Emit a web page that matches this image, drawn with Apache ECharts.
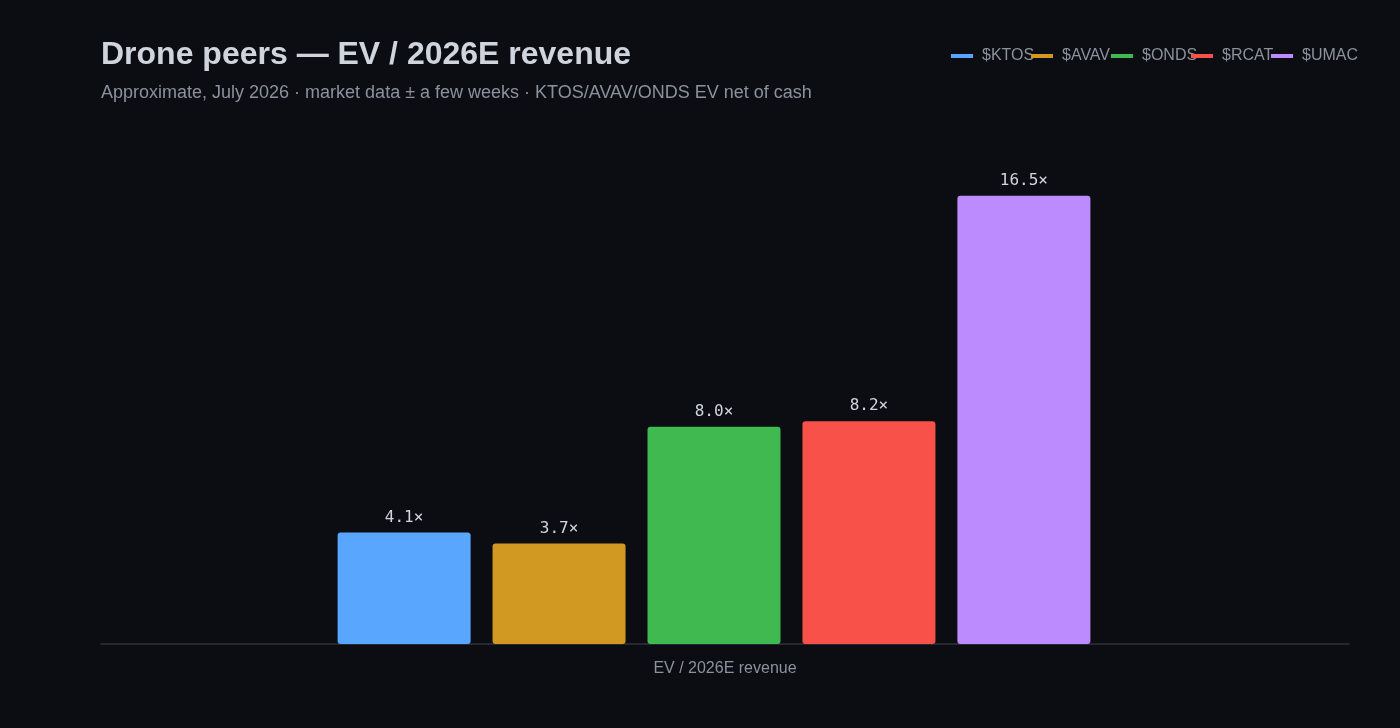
<!DOCTYPE html>
<html>
<head>
<meta charset="utf-8">
<script src="https://cdn.jsdelivr.net/npm/echarts@6/dist/echarts.min.js"></script>
<style>
  html, body { margin: 0; padding: 0; background: #0b0d12; }
  #chart { width: 1400px; height: 728px; }
</style>
</head>
<body>
<div id="chart"></div>
<script>
var categories = ['EV / 2026E revenue'];
var tickers = ['$KTOS', '$AVAV', '$ONDS', '$RCAT', '$UMAC'];
var multiples = [4.1, 3.7, 8.0, 8.2, 16.5];
var colors = ['#58a6ff', '#d29922', '#3fb950', '#f85149', '#bc8cff'];

var myChart = echarts.init(document.getElementById('chart'));
var sans = 'Liberation Sans, Arial, sans-serif';

var series = tickers.map(function (name, i) {
    return {
        name: name,
        type: 'bar',
        barWidth: 133,
        barGap: '16.5%',
        data: [multiples[i]],
        itemStyle: { color: colors[i], borderRadius: 3 },
        label: {
            show: true,
            position: 'top',
            distance: 7,
            color: '#d0d5dd',
            fontFamily: 'DejaVu Sans Mono, monospace',
            fontSize: 16,
            formatter: function (p) { return p.value.toFixed(1) + '×'; }
        }
    };
});

// one legend per ticker so the items sit at a fixed 80px pitch
var legends = tickers.map(function (name, i) {
    return {
        left: 946 + 80 * i,
        top: 43,
        icon: 'rect',
        itemWidth: 22,
        itemHeight: 4,
        data: [name],
        textStyle: {
            color: '#8b929c',
            fontSize: 16,
            fontFamily: sans,
            padding: [0, 0, 0, 4]
        }
    };
});

var option = {
    backgroundColor: '#0b0d12',
    title: {
        text: 'Drone peers — EV / 2026E revenue',
        subtext: 'Approximate, July 2026 · market data ± a few weeks · KTOS/AVAV/ONDS EV net of cash',
        left: 96,
        top: 34,
        itemGap: 13,
        textStyle: {
            color: '#d0d5dd',
            fontSize: 32,
            fontWeight: 'bold',
            fontFamily: sans
        },
        subtextStyle: {
            color: '#8b929c',
            fontSize: 18,
            fontFamily: sans
        }
    },
    legend: legends,
    // grid 0 holds the bars, grid 1 only draws the baseline and category label
    grid: [
        { left: 90, right: 62, top: 155, bottom: 84 },
        { left: 101, right: 51, top: 155, bottom: 84 }
    ],
    xAxis: [
        {
            type: 'category',
            gridIndex: 0,
            data: categories,
            axisLine: { show: false },
            axisTick: { show: false },
            axisLabel: { show: false }
        },
        {
            type: 'category',
            gridIndex: 1,
            data: categories,
            axisLine: { lineStyle: { color: '#30343b', width: 1.5 } },
            axisTick: { show: false },
            axisLabel: {
                color: '#8b929c',
                fontSize: 16,
                margin: 17,
                fontFamily: sans
            }
        }
    ],
    yAxis: [
        { type: 'value', gridIndex: 0, min: 0, max: 18, show: false },
        { type: 'value', gridIndex: 1, min: 0, max: 18, show: false }
    ],
    series: series
};

myChart.setOption(option);
</script>
</body>
</html>
